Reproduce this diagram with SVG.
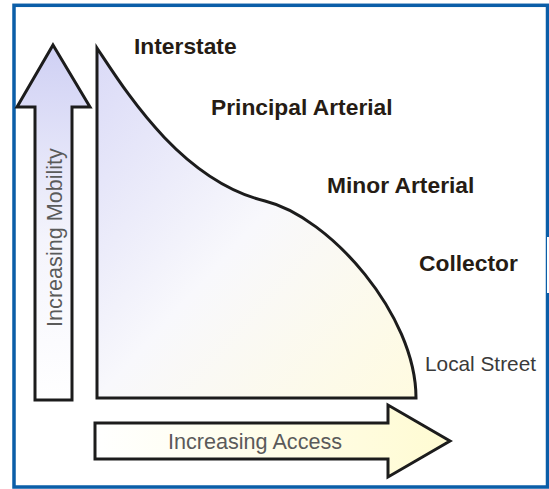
<svg xmlns="http://www.w3.org/2000/svg" width="549" height="489" viewBox="0 0 549 489">
  <defs>
    <linearGradient id="chartFill" x1="0" y1="0" x2="1" y2="1">
      <stop offset="0" stop-color="#dadaf7"/>
      <stop offset="0.5" stop-color="#f8f8fc"/>
      <stop offset="1" stop-color="#fffbe0"/>
    </linearGradient>
    <linearGradient id="vFill" x1="0" y1="0" x2="0" y2="1">
      <stop offset="0" stop-color="#cfd0f4"/>
      <stop offset="0.55" stop-color="#f4f4fc"/>
      <stop offset="1" stop-color="#ffffff"/>
    </linearGradient>
    <linearGradient id="hFill" x1="0" y1="0" x2="1" y2="0">
      <stop offset="0" stop-color="#ffffff"/>
      <stop offset="1" stop-color="#fffbd2"/>
    </linearGradient>
    <style>
      .shape { stroke: #1c1c1c; stroke-width: 3; stroke-linejoin: miter; }
      .lbl { font-family: "Liberation Sans", Arial, sans-serif; font-weight: bold; font-size: 22.8px; fill: #261c14; }
      .axis { font-family: "Liberation Sans", Arial, sans-serif; font-size: 21.6px; fill: #5a5a5a; }
      .small { font-family: "Liberation Sans", Arial, sans-serif; font-size: 20.8px; fill: #3a3a3a; }
    </style>
  </defs>
  <rect x="0" y="0" width="549" height="489" fill="#ffffff"/>
  <rect id="frame" x="14" y="5.3" width="533.5" height="481.7" fill="none" stroke="#0b5ea8" stroke-width="3.5"/>
  <rect x="547" y="237" width="3" height="56" fill="#ffffff"/>
  <line x1="546.5" y1="237" x2="546.5" y2="293" stroke="#0b5ea8" stroke-width="1"/>

  <g id="mobility-arrow">
    <path class="shape" fill="url(#vFill)" d="M53,45 L90,107 L72,107 L72,400 L35,400 L35,107 L17,107 Z"/>
    <text class="axis" transform="translate(62,237.5) rotate(-90)" text-anchor="middle">Increasing Mobility</text>
  </g>

  <g id="access-arrow">
    <path class="shape" fill="url(#hFill)" d="M95,423 L388,423 L388,405 L450,441 L388,477 L388,459 L95,459 Z"/>
    <text class="axis" x="168" y="449">Increasing Access</text>
  </g>

  <g id="chart">
    <path class="shape" fill="url(#chartFill)" d="M97,48 C125,90 180,180 265,201 C330,217 416,315 416,398 L97,398 Z"/>
  </g>

  <g id="labels">
    <text class="lbl" x="134" y="54">Interstate</text>
    <text class="lbl" x="211" y="115">Principal Arterial</text>
    <text class="lbl" x="327" y="193">Minor Arterial</text>
    <text class="lbl" x="419" y="271">Collector</text>
    <text class="small" x="425" y="371">Local Street</text>
  </g>
</svg>
